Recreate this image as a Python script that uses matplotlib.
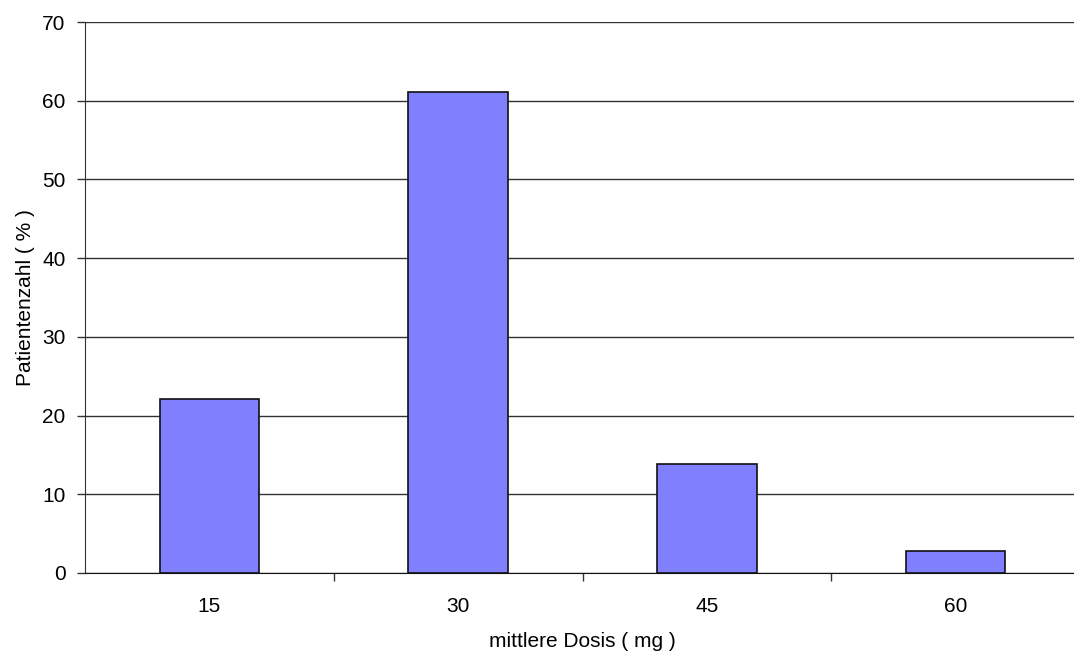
import matplotlib
matplotlib.use("Agg")
import matplotlib.pyplot as plt
import numpy as np

categories = ["15", "30", "45", "60"]
values = [22.1, 61.1, 13.9, 2.8]
yticks = [0, 10, 20, 30, 40, 50, 60, 70]

plt.rcParams['font.family'] = ['Liberation Sans', 'DejaVu Sans']

W, H = 1074, 652
fig = plt.figure(figsize=(W/100, H/100), dpi=100)
ax = fig.add_axes([85/W, 1-573/H, (1080-85)/W, (573-22)/H])

FS = 15
x = np.arange(len(categories))
ax.bar(x, values, width=0.4, color="#8080FF", edgecolor="#111111", linewidth=1.2, zorder=3)
ax.set_xlim(-0.5, len(categories)-0.5)
ax.set_ylim(0, 70)
ax.set_yticks(yticks)
ax.yaxis.grid(True, color="#333333", linewidth=1.0, zorder=0)
ax.set_axisbelow(True)

ax.set_xticks(x)
ax.set_xticklabels(categories, fontsize=FS)
ax.tick_params(axis='x', which='major', length=0, pad=17)
ax.set_xticks(np.arange(0.5, len(categories)-0.5, 1), minor=True)
ax.tick_params(axis='x', which='minor', length=6, width=1, color="#333333", direction='out')
ax.tick_params(axis='y', length=6, width=1, color="#333333", labelsize=FS, pad=8)

for s in ["top", "right"]:
    ax.spines[s].set_visible(False)
ax.spines["left"].set_color("#333333")
ax.spines["bottom"].set_color("#111111")

ax.set_xlabel("mittlere Dosis ( mg )", fontsize=FS, labelpad=12)
ax.set_ylabel("Patientenzahl ( % )", fontsize=FS, labelpad=5)

fig.savefig("out.png", dpi=100)
